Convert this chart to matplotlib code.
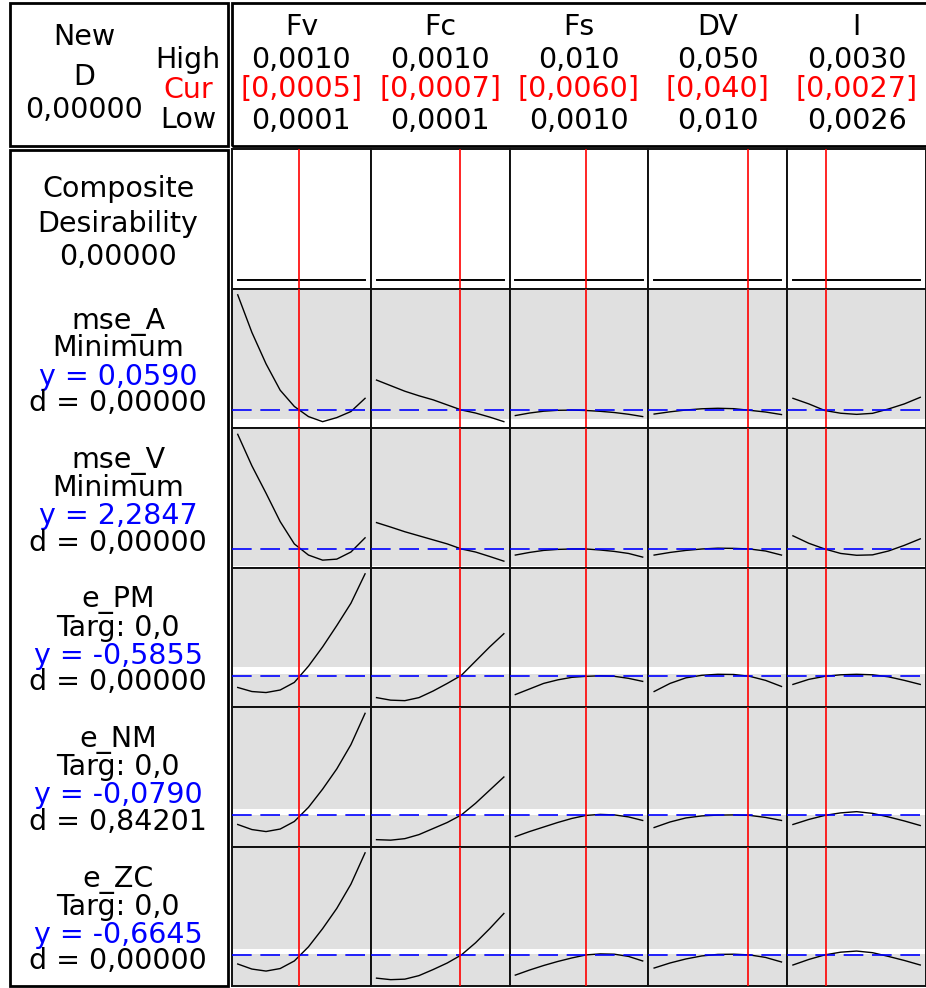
import matplotlib
matplotlib.use("Agg")
import matplotlib.pyplot as plt
from matplotlib.patches import Rectangle

W, H = 926, 988

# ---------------- data ----------------
factors = ["Fv", "Fc", "Fs", "DV", "I"]
low = [0.0001, 0.0001, 0.001, 0.010, 0.0026]
high = [0.0010, 0.0010, 0.010, 0.050, 0.0030]
cur = [0.00053, 0.00069, 0.00596, 0.0396, 0.002705]
high_labels = ["0,0010", "0,0010", "0,010", "0,050", "0,0030"]
cur_labels = ["[0,0005]", "[0,0007]", "[0,0060]", "[0,040]", "[0,0027]"]
low_labels = ["0,0001", "0,0001", "0,0010", "0,010", "0,0026"]

fv_x = [0.0001, 0.0002, 0.0003, 0.0004, 0.0005, 0.0006, 0.0007, 0.0008, 0.0009, 0.0010]
fc_x = [0.0001, 0.0002, 0.0003, 0.0004, 0.0005, 0.0006, 0.0007, 0.0008, 0.0009, 0.0010]
fs_x = [0.001, 0.002, 0.003, 0.004, 0.005, 0.006, 0.007, 0.008, 0.009, 0.010]
dv_x = [0.010, 0.015, 0.020, 0.025, 0.030, 0.035, 0.040, 0.045, 0.050]
i_x = [0.00260, 0.00265, 0.00270, 0.00275, 0.00280, 0.00285, 0.00290, 0.00295, 0.00300]

responses = ["mse_A", "mse_V", "e_PM", "e_NM", "e_ZC"]
goals = ["Minimum", "Minimum", "Targ: 0,0", "Targ: 0,0", "Targ: 0,0"]
y_current = [0.0590, 2.2847, -0.5855, -0.0790, -0.6645]
y_labels = ["y = 0,0590", "y = 2,2847", "y = -0,5855", "y = -0,0790", "y = -0,6645"]
d_labels = ["d = 0,00000", "d = 0,00000", "d = 0,00000", "d = 0,84201", "d = 0,00000"]
composite_D = 0.0
composite_label = "0,00000"
white_band = [(0.0, 0.051), (0.0, 1.46), (-0.34, 0.31), (-0.03, 0.52), (-0.61, -0.06)]

mseA_Fv = [0.173, 0.136, 0.105, 0.079, 0.063, 0.053, 0.048, 0.052, 0.058, 0.071]
mseA_Fc = [0.089, 0.0835, 0.078, 0.0735, 0.0695, 0.0645, 0.0595, 0.0565, 0.0525, 0.048]
mseA_Fs = [0.054, 0.0565, 0.0583, 0.0592, 0.0594, 0.0590, 0.0582, 0.0570, 0.0553, 0.0530]
mseA_DV = [0.0555, 0.0577, 0.0595, 0.0607, 0.0612, 0.0608, 0.0592, 0.0575, 0.0550]
mseA_I = [0.071, 0.0655, 0.0590, 0.0563, 0.0552, 0.0562, 0.0605, 0.0655, 0.0720]

mseV_Fv = [7.93, 6.38, 5.03, 3.63, 2.53, 1.98, 1.73, 1.78, 2.13, 2.83]
mseV_Fc = [3.58, 3.36, 3.13, 2.93, 2.73, 2.53, 2.28, 2.13, 1.91, 1.68]
mseV_Fs = [1.98, 2.11, 2.21, 2.26, 2.28, 2.28, 2.23, 2.16, 2.06, 1.88]
mseV_DV = [1.98, 2.11, 2.21, 2.28, 2.32, 2.31, 2.28, 2.18, 1.98]
mseV_I = [2.93, 2.56, 2.28, 2.06, 1.97, 1.99, 2.18, 2.46, 2.78]

ePM_Fv = [-1.69, -2.09, -2.19, -1.94, -1.19, 0.41, 2.31, 4.41, 6.61, 9.51]
ePM_Fc = [-2.69, -2.94, -2.99, -2.69, -2.04, -1.29, -0.49, 0.91, 2.31, 3.61]
ePM_Fs = [-2.39, -1.84, -1.29, -0.94, -0.69, -0.59, -0.54, -0.59, -0.79, -1.09]
ePM_DV = [-2.09, -1.29, -0.74, -0.49, -0.39, -0.41, -0.59, -0.99, -1.59]
ePM_I = [-1.39, -0.89, -0.59, -0.44, -0.39, -0.44, -0.64, -0.99, -1.39]

eNM_Fv = [-0.98, -1.48, -1.68, -1.43, -0.68, 0.72, 2.52, 4.52, 6.92, 10.02]
eNM_Fc = [-2.48, -2.53, -2.38, -1.98, -1.38, -0.78, -0.03, 1.12, 2.42, 3.72]
eNM_Fs = [-2.18, -1.68, -1.23, -0.78, -0.38, -0.08, 0.02, -0.03, -0.23, -0.58]
eNM_DV = [-1.28, -0.73, -0.33, -0.13, -0.05, -0.03, -0.08, -0.28, -0.58]
eNM_I = [-0.98, -0.48, -0.08, 0.17, 0.29, 0.12, -0.23, -0.63, -1.08]

eZC_Fv = [-1.56, -2.06, -2.26, -2.01, -1.26, 0.14, 1.94, 3.94, 6.34, 9.44]
eZC_Fc = [-2.96, -3.11, -3.06, -2.71, -2.11, -1.46, -0.66, 0.54, 1.94, 3.44]
eZC_Fs = [-2.66, -2.16, -1.71, -1.31, -0.96, -0.66, -0.56, -0.59, -0.81, -1.26]
eZC_DV = [-1.96, -1.46, -1.06, -0.76, -0.61, -0.59, -0.66, -0.91, -1.36]
eZC_I = [-1.66, -1.11, -0.66, -0.39, -0.28, -0.44, -0.81, -1.21, -1.66]

# ---------------- assembly ----------------
x_grids = [fv_x, fc_x, fs_x, dv_x, i_x]
curves = [
    [mseA_Fv, mseA_Fc, mseA_Fs, mseA_DV, mseA_I],
    [mseV_Fv, mseV_Fc, mseV_Fs, mseV_DV, mseV_I],
    [ePM_Fv, ePM_Fc, ePM_Fs, ePM_DV, ePM_I],
    [eNM_Fv, eNM_Fc, eNM_Fs, eNM_DV, eNM_I],
    [eZC_Fv, eZC_Fc, eZC_Fs, eZC_DV, eZC_I],
]

FS = 20.5
GRAY = "#e0e0e0"
BLUE = "#0000ff"
RED = "#ff0000"

fig = plt.figure(figsize=(W / 100, H / 100), dpi=100)
fig.patch.set_facecolor("white")


def fx(x):
    return x / W


def fy(y):
    return 1 - y / H


def ftext(x, y, s, color="black", ha="center"):
    fig.text(fx(x), fy(y), s, ha=ha, va="baseline", fontsize=FS, color=color,
             family="DejaVu Sans")


def frame(x0, y0, x1, y1, lw=2.0):
    fig.patches.append(Rectangle((fx(x0), fy(y1)), (x1 - x0) / W, (y1 - y0) / H,
                                 transform=fig.transFigure, fill=False,
                                 edgecolor="black", linewidth=lw, zorder=10))


GRID_L, GRID_R, GRID_T, GRID_B = 232, 926, 149, 986
nrow, ncol = 6, 5
row_h = (GRID_B - GRID_T) / nrow
col_w = (GRID_R - GRID_L) / ncol

gs = fig.add_gridspec(nrow, ncol, left=fx(GRID_L), right=fx(GRID_R),
                      top=fy(GRID_T), bottom=fy(GRID_B), wspace=0, hspace=0)

dash = (0, (11.8, 5.2))

for r in range(nrow):
    for c in range(ncol):
        ax = fig.add_subplot(gs[r, c])
        ax.set_xticks([])
        ax.set_yticks([])
        for sp in ax.spines.values():
            sp.set_color("#111111")
            sp.set_linewidth(1.4)
        span = high[c] - low[c]
        ax.set_xlim(low[c] - 0.045 * span, high[c] + 0.045 * span)
        xs = x_grids[c]
        if r == 0:
            ax.set_facecolor("white")
            ax.plot(xs, [composite_D] * len(xs), color="black", lw=1.4)
            ax.set_ylim(-0.065, 1.0)
        else:
            k = r - 1
            ax.set_facecolor(GRAY)
            allv = [v for cv in curves[k] for v in cv]
            lo, hi = min(allv), max(allv)
            rng = hi - lo
            ax.axhspan(white_band[k][0], white_band[k][1], color="white", lw=0, zorder=0.5)
            ax.plot(xs, curves[k][c], color="black", lw=1.0, zorder=2)
            ax.axhline(y_current[k], color=BLUE, lw=1.2, linestyle=dash, zorder=3)
            ax.set_ylim(lo - 0.05 * rng, hi + 0.05 * rng)
        ax.axvline(cur[c], color=RED, lw=1.2, zorder=5)

# frames
frame(10, 3, 228, 146)
frame(232, 3, 940, 146)
frame(10, 150, 228, 986)

# left header
ftext(84, 45, "New")
ftext(84, 85, "D")
ftext(84, 118, "0,00000")
ftext(188, 68, "High")
ftext(188, 98, "Cur", color=RED)
ftext(188, 128, "Low")

# factor headers
for c in range(ncol):
    cx = GRID_L + col_w * (c + 0.5)
    ftext(cx, 35, factors[c])
    ftext(cx, 68, high_labels[c])
    ftext(cx, 97, cur_labels[c], color=RED)
    ftext(cx, 129, low_labels[c])

# composite label
ftext(118, 197, "Composite")
ftext(118, 232, "Desirability")
ftext(118, 265, composite_label)

# response labels
for k in range(5):
    top = GRID_T + row_h * (k + 1)
    ftext(118, top + 40, responses[k])
    ftext(118, top + 68, goals[k])
    ftext(118, top + 96, y_labels[k], color=BLUE)
    ftext(118, top + 122.5, d_labels[k])

fig.savefig("out.png", dpi=100, facecolor="white")
